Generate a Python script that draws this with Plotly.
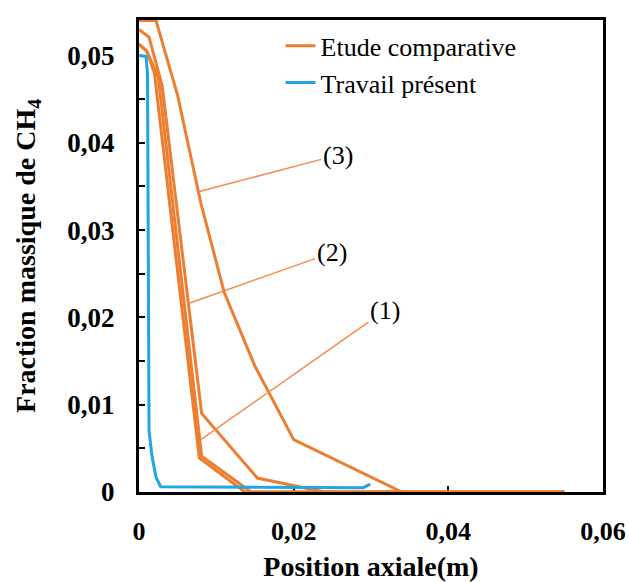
import plotly.graph_objects as go

# Etude comparative : courbes (3), (2) et (1)
x_c3 = [0, 0.0022, 0.005, 0.008, 0.011, 0.015, 0.020, 0.034, 0.055]
y_c3 = [0.054, 0.054, 0.0454, 0.0331, 0.0229, 0.0144, 0.0060, 0.0, 0.0]

x_c2 = [0, 0.0013, 0.003, 0.0081, 0.0153, 0.0195, 0.024, 0.055]
y_c2 = [0.053, 0.0521, 0.0465, 0.009, 0.0016, 0.0008, 0.0, 0.0]

x_c1 = [0, 0.001, 0.002, 0.0078, 0.0137, 0.055]
y_c1 = [0.0513, 0.0505, 0.048, 0.0039, 0.0, 0.0]

x_c1b = [0, 0.001, 0.0025, 0.0081, 0.0145, 0.055]
y_c1b = [0.0513, 0.0505, 0.0475, 0.0041, 0.0, 0.0]

# Travail présent
x_tp = [0, 0.0009, 0.0011, 0.0013, 0.0017, 0.0022, 0.0028, 0.029, 0.0299]
y_tp = [0.050, 0.0499, 0.048, 0.007, 0.004, 0.0017, 0.0006, 0.0005, 0.0009]

# Repères des courbes : (texte, x cible, y cible, x texte, y texte)
labels = [
    ("(3)", 0.0077, 0.0344, 0.0257, 0.0386),
    ("(2)", 0.0064, 0.0216, 0.0249, 0.0274),
    ("(1)", 0.0080, 0.0060, 0.0318, 0.0208),
]

ORANGE = "#ED7D31"
BLUE = "#1EA7E1"
SERIF = "Liberation Serif, Times New Roman, serif"

fig = go.Figure()
curves = [(x_c3, y_c3), (x_c2, y_c2), (x_c1, y_c1), (x_c1b, y_c1b)]
for i, (xs, ys) in enumerate(curves):
    fig.add_trace(go.Scatter(
        x=xs, y=ys, mode="lines", name="Etude comparative",
        legendgroup="etude", showlegend=(i == 0),
        line=dict(color=ORANGE, width=3),
    ))
fig.add_trace(go.Scatter(
    x=x_tp, y=y_tp, mode="lines", name="Travail présent",
    line=dict(color=BLUE, width=3),
))

for text, xt, yt, xl, yl in labels:
    fig.add_annotation(
        x=xt, y=yt, ax=xl, ay=yl, axref="x", ayref="y", xref="x", yref="y",
        text=text, showarrow=True, arrowhead=0, arrowwidth=1.5,
        arrowcolor="#F58B4C", standoff=0, startstandoff=0,
        font=dict(family=SERIF, size=26, color="black"),
    )

axis_common = dict(
    showline=True, linecolor="black", linewidth=3, mirror=True,
    showgrid=False, zeroline=False, ticks="inside", tickcolor="black",
    tickwidth=2, ticklen=6, layer="below traces",
)

fig.update_xaxes(
    range=[0, 0.06], tick0=0, dtick=0.02, ticklabelstandoff=14,
    tickfont=dict(family=SERIF, size=26, color="black", weight="bold"),
    title=dict(text="Position axiale(m)", standoff=14,
               font=dict(family=SERIF, size=28, color="black", weight="bold")),
    **axis_common,
)
fig.update_yaxes(
    range=[0, 0.05407], tick0=0, dtick=0.01, ticklabelstandoff=16,
    tickfont=dict(family=SERIF, size=27, color="black", weight="bold"),
    minor=dict(dtick=0.005, ticks="inside", ticklen=6, tickwidth=2,
               tickcolor="black"),
    title=dict(text="Fraction massique de CH<sub>4</sub>", standoff=24,
               font=dict(family=SERIF, size=28, color="black", weight="bold")),
    **axis_common,
)

fig.update_layout(
    width=629, height=582,
    margin=dict(l=139, r=26, t=20, b=90, autoexpand=False),
    paper_bgcolor="white", plot_bgcolor="white",
    separators=", ",
    legend=dict(
        x=0.305, y=0.995, xanchor="left", yanchor="top",
        bgcolor="rgba(0,0,0,0)", borderwidth=0,
        font=dict(family=SERIF, size=26, color="black"),
        tracegroupgap=0,
    ),
)

fig.write_html("out.html")
